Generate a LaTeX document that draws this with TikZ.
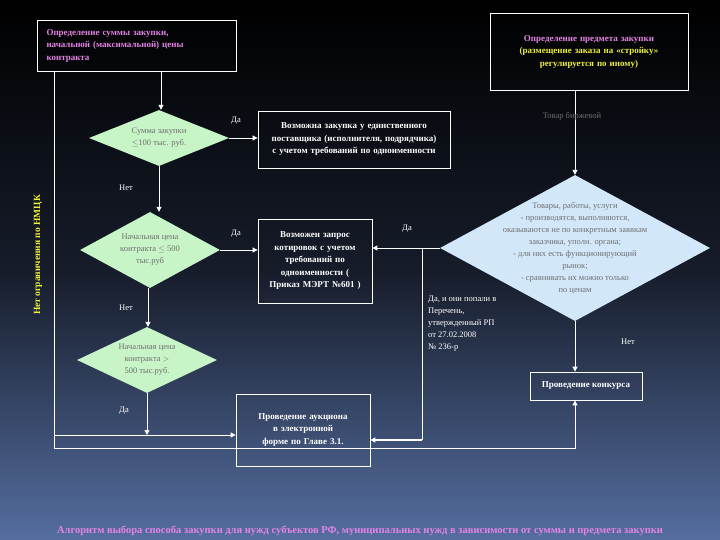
\documentclass[tikz,border=0pt]{standalone}
\usepackage{fontspec}
\setmainfont{Liberation Serif}
\usetikzlibrary{shapes.geometric,arrows.meta}
\definecolor{pinkt}{RGB}{230,130,230}
\definecolor{yelt}{RGB}{240,240,60}
\definecolor{grn}{RGB}{200,245,200}
\definecolor{blu}{RGB}{210,232,250}
\definecolor{gtx}{RGB}{110,110,110}
\begin{document}
\begin{tikzpicture}[x=1pt,y=-1pt,
  box/.style={draw=white,line width=0.8pt,text=white,font=\fontsize{9}{12.5}\selectfont\bfseries,align=center,inner sep=2pt},
  dia/.style={diamond,inner sep=0pt},
  dtx/.style={text=gtx,font=\fontsize{8.5}{12}\selectfont,align=center,inner sep=0pt},
  lab/.style={text=white,font=\fontsize{8.5}{12}\selectfont,align=left,inner sep=0pt},
  ln/.style={draw=white,line width=0.9pt},
  ar/.style={ln,-{Triangle[length=5pt,width=5pt]}}]
\useasboundingbox (0,0) rectangle (720,540);
\shade[top color=black,bottom color={rgb,255:red,85;green,110;blue,160},middle color={rgb,255:red,22;green,28;blue,42}] (0,0) rectangle (720,540);
% boxes
\node[box,minimum width=199,minimum height=51,text width=180,align=left,text=pinkt] (b1) at (136.5,45.5) {Определение суммы закупки,\\начальной (максимальной) цены\\контракта};
\node[box,minimum width=198,minimum height=77,text width=190,text=yelt] (b2) at (589,51.5) {\textcolor{pinkt}{Определение предмета закупки}\\(размещение заказа на «стройку»\\регулируется по иному)};
\node[box,minimum width=192,minimum height=57,text width=165] (b3) at (354,139.5) {Возможна закупка у единственного поставщика (исполнителя, подрядчика) с учетом требований по одноименности};
\node[box,minimum width=114,minimum height=84,text width=100] (b4) at (315,261) {Возможен запрос котировок с учетом требований по одноименности ( Приказ МЭРТ №601 )};
\node[box,minimum width=134,minimum height=72,text width=105] (b5) at (303,430) {Проведение аукциона в электронной форме по Главе 3.1.};
\node[box,minimum width=112,minimum height=28] (b6) at (586,386) {Проведение конкурса};
% diamonds
\node[dia,fill=grn,minimum width=140,minimum height=56] (d1) at (159,138) {};
\node[dtx] at (d1) {Сумма закупки\\$\leq$100 тыс. руб.};
\node[dia,fill=grn,minimum width=140,minimum height=76] (d2) at (150,250) {};
\node[dtx] at (d2) {Начальная цена\\контракта $\leq$ 500\\тыс.руб};
\node[dia,fill=blu,minimum width=270,minimum height=146] (d4) at (575,248) {};
\node[dtx] at (d4) {Товары, работы, услуги\\- производятся, выполняются,\\оказываются не по конкретным заявкам\\заказчика, уполн. органа;\\- для них есть функционирующий\\рынок;\\- сравнивать их можно только\\по ценам};
\node[dia,fill=grn,minimum width=140,minimum height=66] (d3) at (147,360) {};
\node[dtx] at (d3) {Начальная цена\\контракта $>$\\500 тыс.руб.};
% connectors
\coordinate (c1) at (54,71);
\coordinate (c2) at (54,448);
\coordinate (c3) at (575,448);
\coordinate (c4) at (54,435);
\coordinate (c5) at (147,435);
\coordinate (c6) at (422,248);
\coordinate (c7) at (422,440);
\draw[ar] (161,71) -- (d1.north -| 161,0);
\draw[ar] (d1.east) -- (b3.west |- d1.east);
\draw[ar] (d1.south) -- (d1.south |- d2.north);
\draw[ar] (d2.east) -- (b4.west |- d2.east);
\draw[ar] (d2.south -| 148,0) -- (d3.north -| 148,0);
\draw[ar] (d3.south) -- (c5);
\draw[ar] (c4) -- (b5.west |- c4);
\draw[ar] (c1) -- (c2) -- (c3) -- (b6.south -| c3);
\draw[ar] (b2.south -| d4.north) -- (d4.north);
\draw[ar] (d4.west) -- (b4.east |- d4.west);
\draw[ln] (c6) -- (c7);
\draw[ar,line width=1.5pt] (c7) -- (b5.east |- c7);
\draw[ar] (d4.south) -- (b6.north -| d4.south);
% labels
\node[lab] at (236,121) {Да};
\node[lab] at (236,234) {Да};
\node[lab] at (126,188) {Нет};
\node[lab] at (126,308) {Нет};
\node[lab] at (124,411) {Да};
\node[lab] at (407,229) {Да};
\node[lab] at (628,342) {Нет};
\node[lab,text=gtx] at (572,116) {Товар биржевой};
\node[lab,anchor=north west] at (428,296) {Да, и они попали в\\Перечень,\\утвержденный РП\\от 27.02.2008\\№ 236-р};
\node[text=yelt,font=\fontsize{9.5}{10}\selectfont\bfseries,rotate=90] at (38,255) {Нет ограничения по НМЦК};
\node[text=pinkt,font=\fontsize{10.5}{11}\selectfont\bfseries] at (360,531) {Алгоритм выбора способа закупки для нужд субъектов РФ, муниципальных нужд в зависимости от суммы и предмета закупки};
\end{tikzpicture}
\end{document}
